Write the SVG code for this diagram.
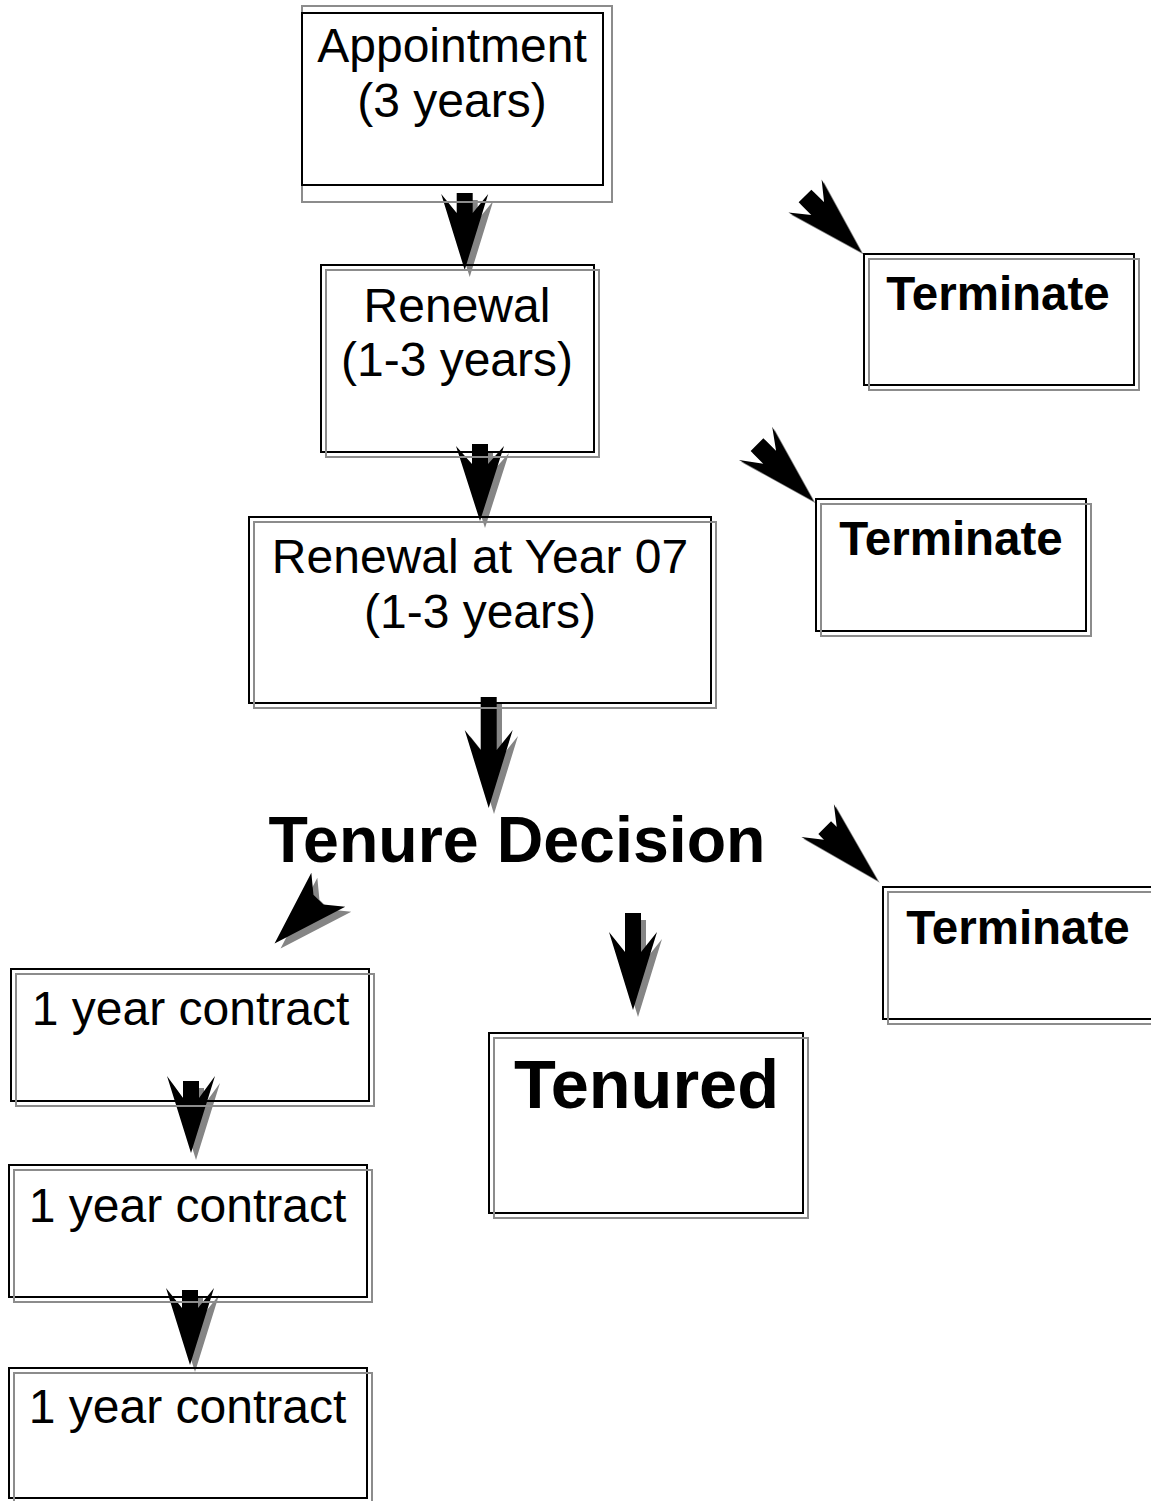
<svg xmlns="http://www.w3.org/2000/svg" width="1151" height="1501" viewBox="0 0 1151 1501">
<style>
.b{fill:none;stroke:#000;stroke-width:2}
.g{fill:none;stroke:#8c8c8c;stroke-width:2}
.t{font-family:"Liberation Sans",Arial,sans-serif;font-size:48px;fill:#000;text-anchor:middle}
.tb{font-family:"Liberation Sans",Arial,sans-serif;font-weight:bold;fill:#000;text-anchor:middle}
.ar{fill:#000}
.sh{fill:#858585}
</style>
<rect width="1151" height="1501" fill="#fff"/>
<g id="connectors">
  <path class="sh" transform="translate(469.7,200) rotate(90)" d="M0 -8 L20 -8 L1 -23.5 L77 0 L1 23.5 L20 8 L0 8 Z"/>
  <path class="ar" transform="translate(464.7,193) rotate(90)" d="M0 -8 L20 -8 L1 -23.5 L77 0 L1 23.5 L20 8 L0 8 Z"/>
  <path class="sh" transform="translate(485,451) rotate(90)" d="M0 -8 L20 -8 L2 -24 L77 0 L2 24 L20 8 L0 8 Z"/>
  <path class="ar" transform="translate(480,444) rotate(90)" d="M0 -8 L20 -8 L2 -24 L77 0 L2 24 L20 8 L0 8 Z"/>
  <path class="sh" transform="translate(494,703) rotate(90)" d="M0 -8 L53 -8 L33 -24 L111 0 L33 24 L53 8 L0 8 Z"/>
  <path class="ar" transform="translate(488.7,697) rotate(90)" d="M0 -8 L53 -8 L33 -24 L111 0 L33 24 L53 8 L0 8 Z"/>
  <path class="sh" transform="translate(638,920) rotate(90)" d="M0 -8 L39 -8 L19 -24 L97 0 L19 24 L39 8 L0 8 Z"/>
  <path class="ar" transform="translate(633,913) rotate(90)" d="M0 -8 L39 -8 L19 -24 L97 0 L19 24 L39 8 L0 8 Z"/>
  <path class="sh" transform="translate(196,1088) rotate(90)" d="M0 -8 L17 -8 L-5 -24 L72 0 L-5 24 L17 8 L0 8 Z"/>
  <path class="ar" transform="translate(191,1081) rotate(90)" d="M0 -8 L17 -8 L-5 -24 L72 0 L-5 24 L17 8 L0 8 Z"/>
  <path class="sh" transform="translate(195,1297) rotate(90)" d="M0 -8 L18 -8 L-2 -24 L75 0 L-2 24 L18 8 L0 8 Z"/>
  <path class="ar" transform="translate(190,1290) rotate(90)" d="M0 -8 L18 -8 L-2 -24 L75 0 L-2 24 L18 8 L0 8 Z"/>
  <path class="sh" transform="translate(807,198) rotate(45)" d="M0 -9 L18 -9 L0 -23.5 L80 0 L0 23.5 L18 9 L0 9 Z"/>
  <path class="ar" transform="translate(805,196) rotate(45)" d="M0 -9 L18 -9 L0 -23.5 L80 0 L0 23.5 L18 9 L0 9 Z"/>
  <path class="sh" transform="translate(759,446.7) rotate(45)" d="M0 -9 L18 -9 L-2 -23.5 L80 0 L-2 23.5 L18 9 L0 9 Z"/>
  <path class="ar" transform="translate(757,444.7) rotate(45)" d="M0 -9 L18 -9 L-2 -23.5 L80 0 L-2 23.5 L18 9 L0 9 Z"/>
  <path class="sh" transform="translate(826.7,829.7) rotate(45)" d="M0 -9 L8 -9 L-10 -23 L75 0 L-10 23 L8 9 L0 9 Z"/>
  <path class="ar" transform="translate(824.7,827.7) rotate(45)" d="M0 -9 L8 -9 L-10 -23 L75 0 L-10 23 L8 9 L0 9 Z"/>
  <path class="sh" transform="translate(334.3,894.7) rotate(135)" d="M14 -7 L0 -24 L76 0 L0 24 L14 7 Z"/>
  <path class="ar" transform="translate(328.3,889.7) rotate(135)" d="M14 -7 L0 -24 L76 0 L0 24 L14 7 Z"/>
</g>
<g id="appointment">
  <rect class="g" x="302" y="6" width="310" height="196"/>
  <rect class="b" x="302" y="13" width="301" height="172"/>
  <text class="t" x="452" y="62">Appointment</text>
  <text class="t" x="452" y="117">(3 years)</text>
</g>
<g id="renewal">
  <rect class="b" x="321" y="265" width="273" height="187"/>
  <rect class="g" x="326" y="270" width="273" height="187"/>
  <text class="t" x="457" y="322">Renewal</text>
  <text class="t" x="457" y="376">(1-3 years)</text>
</g>
<g id="renewal-year07">
  <rect class="b" x="249" y="517" width="462" height="186"/>
  <rect class="g" x="254" y="522" width="462" height="186"/>
  <text class="t" x="480" y="573">Renewal at Year 07</text>
  <text class="t" x="480" y="628">(1-3 years)</text>
</g>
<g id="terminate1">
  <rect class="b" x="864" y="254" width="270" height="131"/>
  <rect class="g" x="869" y="259" width="270" height="131"/>
  <text class="tb" font-size="47.5" x="998" y="310">Terminate</text>
</g>
<g id="terminate2">
  <rect class="b" x="816" y="499" width="270" height="132"/>
  <rect class="g" x="821" y="504" width="270" height="132"/>
  <text class="tb" font-size="47.5" x="951" y="555">Terminate</text>
</g>
<g id="terminate3">
  <rect class="b" x="883" y="887" width="275" height="132"/>
  <rect class="g" x="888" y="892" width="275" height="132"/>
  <text class="tb" font-size="47.5" x="1018" y="944">Terminate</text>
</g>
<g id="tenure-decision">
  <text class="tb" font-size="64.5" x="517" y="862">Tenure Decision</text>
</g>
<g id="tenured">
  <rect class="b" x="489" y="1033" width="314" height="180"/>
  <rect class="g" x="494" y="1038" width="314" height="180"/>
  <text class="tb" font-size="68.5" x="646.5" y="1108">Tenured</text>
</g>
<g id="contract1">
  <rect class="b" x="11" y="969" width="358" height="132"/>
  <rect class="g" x="16" y="974" width="358" height="132"/>
  <text class="t" x="190.5" y="1025">1 year contract</text>
</g>
<g id="contract2">
  <rect class="b" x="9" y="1165" width="358" height="132"/>
  <rect class="g" x="14" y="1170" width="358" height="132"/>
  <text class="t" x="187.5" y="1222">1 year contract</text>
</g>
<g id="contract3">
  <rect class="b" x="9" y="1368" width="358" height="130"/>
  <rect class="g" x="14" y="1373" width="358" height="130"/>
  <text class="t" x="187.5" y="1423">1 year contract</text>
</g>
</svg>
